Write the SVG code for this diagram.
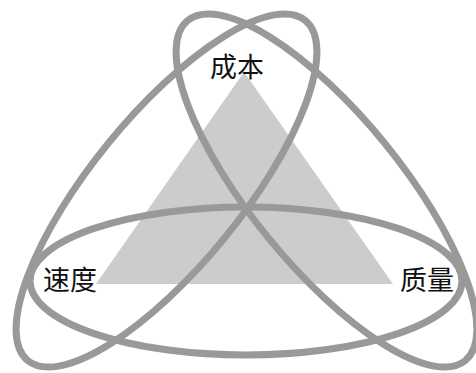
<svg xmlns="http://www.w3.org/2000/svg" width="476" height="373" viewBox="0 0 476 373">
  <style>
    .ring { fill: none; stroke: #999999; stroke-width: 7; }
    .tri { fill: #cccccc; }
    .lbl { font-family: "Noto Sans CJK SC", "Noto Sans CJK TC", sans-serif; font-size: 27px; fill: #111111; text-anchor: middle; }
  </style>
  <rect x="0" y="0" width="476" height="373" fill="#ffffff"/>
  <g id="triangle">
    <polygon class="tri" points="244,72 96,284 393,284"/>
  </g>
  <g id="connectors">
    <ellipse class="ring" cx="246" cy="281" rx="216" ry="74"/>
    <ellipse class="ring" cx="0" cy="0" rx="219.5" ry="75" transform="translate(166.5,190.5) rotate(-50.8)"/>
    <ellipse class="ring" cx="0" cy="0" rx="219.5" ry="75" transform="translate(326.5,190.5) rotate(50.8)"/>
  </g>
  <g id="node-cost">
    <text class="lbl" x="237" y="77">成本</text>
  </g>
  <g id="node-speed">
    <text class="lbl" x="70" y="290">速度</text>
  </g>
  <g id="node-quality">
    <text class="lbl" x="427" y="290">质量</text>
  </g>
</svg>
